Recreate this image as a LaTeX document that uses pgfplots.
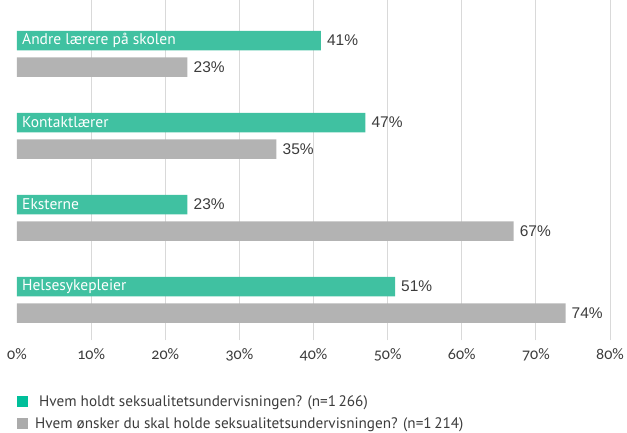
\documentclass[border=0pt]{standalone}
\usepackage{pgfplots}
\pgfplotsset{compat=1.18}
\usepackage{fontspec}
\setmainfont{PT Sans}
\newfontfamily\valfont{Liberation Sans}
\newfontfamily\tickfont[Numbers=OldStyle]{Carlito}
\definecolor{bargreen}{HTML}{40C1A1}
\definecolor{bargrey}{HTML}{B3B3B3}
\definecolor{leggreen}{HTML}{00BF9A}
\definecolor{leggrey}{HTML}{ABABAB}
\definecolor{gridc}{HTML}{D9D9D9}
\definecolor{txt}{HTML}{3C3C3C}
\begin{document}
\begin{tikzpicture}[x=1pt,y=1pt]
\useasboundingbox (0,0) rectangle (627,432);
\begin{axis}[
  at={(17pt,92pt)}, anchor=south west,
  scale only axis, width=593pt, height=340pt,
  xmin=0, xmax=80, ymin=0, ymax=340,
  axis line style={draw=none},
  major tick length=0pt,
  ytick=\empty,
  xtick={10,20,...,80},
  xticklabels={10\%,20\%,30\%,40\%,50\%,60\%,70\%,80\%},
  extra x ticks={0}, extra x tick labels={0\%},
  extra x tick style={grid=none},
  xmajorgrids, grid style={gridc, line width=0.8pt},
  xticklabel style={font=\tickfont\fontsize{16}{18}\selectfont, text=txt, yshift=-5pt},
  /pgf/number format/assume math mode=true,
  xbar, bar shift=0pt, bar width=19.5,
  nodes near coords={\pgfmathprintnumber{\pgfplotspointmeta}\%},
  nodes near coords style={font=\valfont\fontsize{15.5}{17}\selectfont, text=txt, anchor=west, inner sep=0pt, xshift=6pt},
  legend style={at={(axis cs:0,-53)}, anchor=north west, draw=none, fill=none,
    font=\fontsize{15.2}{17}\selectfont, text=txt, inner sep=0pt,
    row sep=6pt, column sep=0pt, cells={anchor=west}},
  legend image code/.code={\fill[#1, draw=none] (0pt,-5.5pt) rectangle (11pt,5.5pt);},
  clip=false,
]
\addplot[draw=none, fill=bargreen, forget plot] coordinates {(41,299.5) (47,217.5) (23,135.5) (51,53.5)};
\addplot[draw=none, fill=bargrey, forget plot] coordinates {(23,273) (35,191) (67,109) (74,27)};
\addlegendimage{fill=leggreen}
\addlegendentry{\hspace{9pt}Hvem holdt seksualitetsundervisningen? (n=1\,266)}
\addlegendimage{fill=leggrey}
\addlegendentry{\hspace{5pt}Hvem ønsker du skal holde seksualitetsundervisningen? (n=1\,214)}
\begin{scope}[every node/.style={anchor=west, inner sep=0pt, text=white, font=\fontsize{15.5}{17}\selectfont, xshift=5pt}]
\node at (axis cs:0,299.5) {Andre lærere på skolen};
\node at (axis cs:0,217.5) {Kontaktlærer};
\node at (axis cs:0,135.5) {Eksterne};
\node at (axis cs:0,53.5) {Helsesykepleier};
\end{scope}
\end{axis}
\end{tikzpicture}
\end{document}
